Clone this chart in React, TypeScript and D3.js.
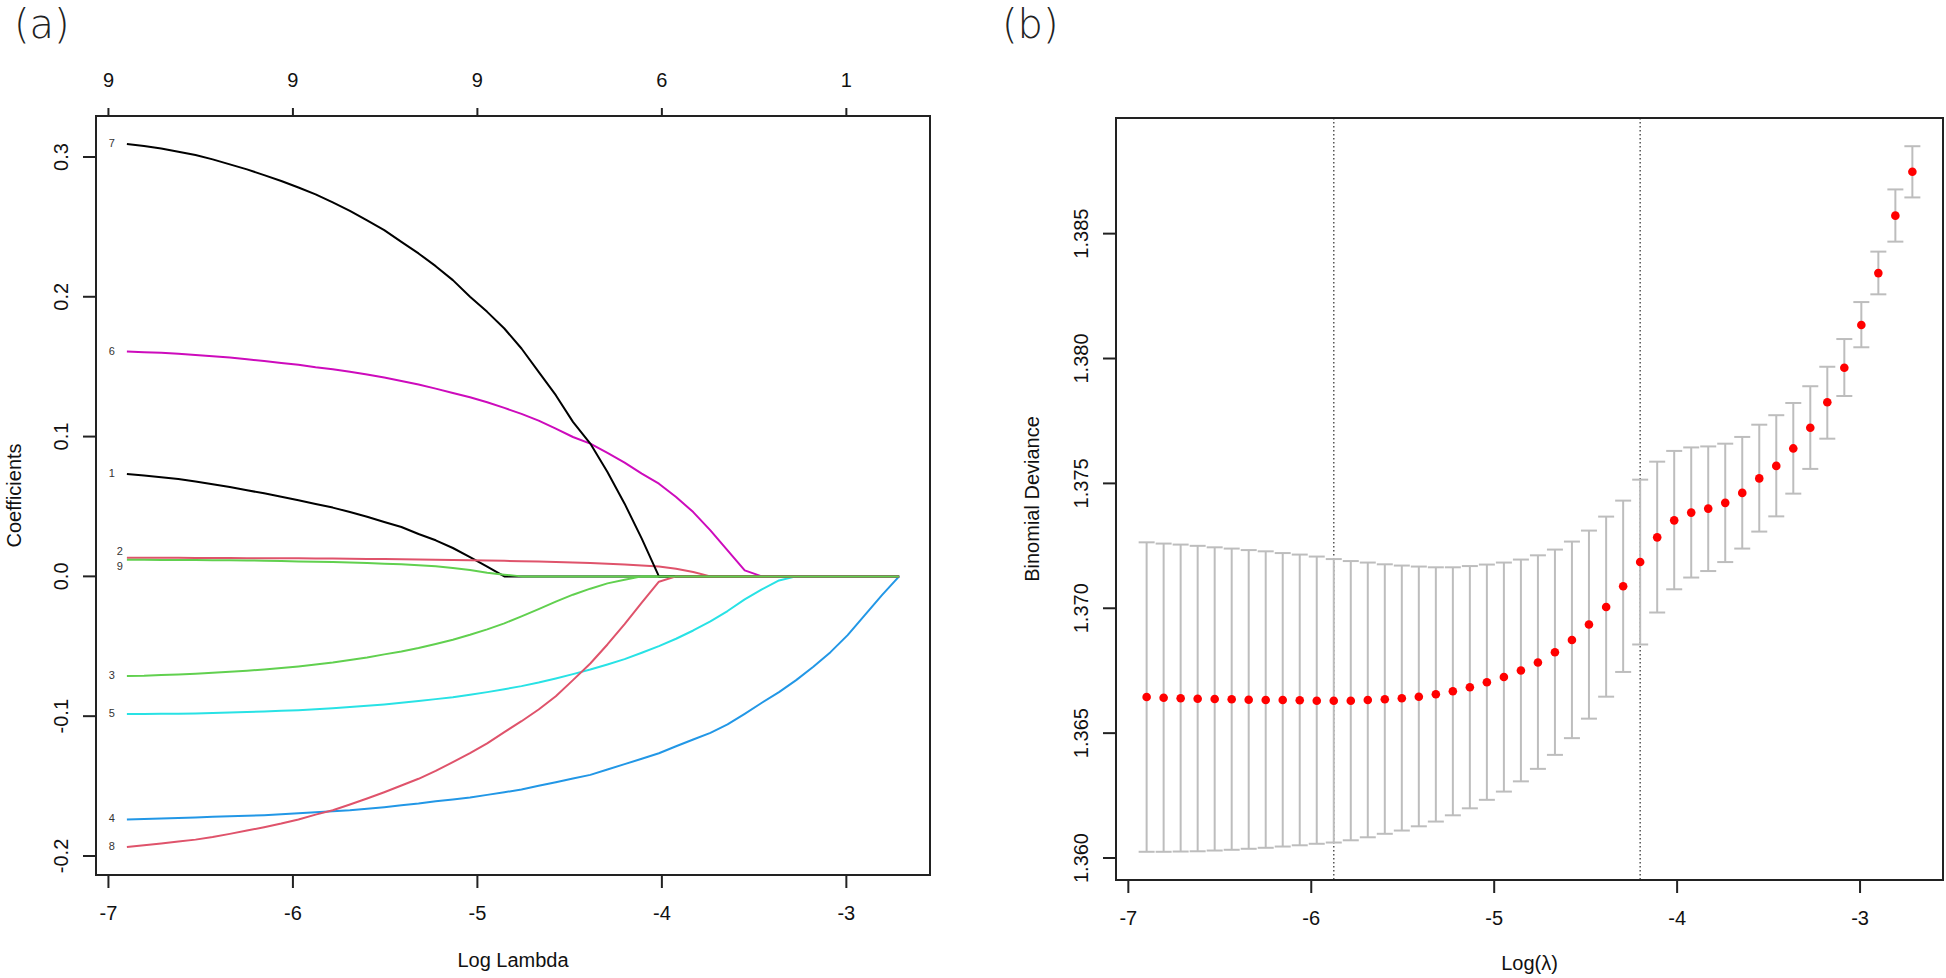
import React from "react";
import * as d3 from "d3";

// ---------- DATA ----------
const logLambda = [
  -6.900, -6.807, -6.714, -6.621, -6.528, -6.435, -6.342, -6.249, -6.156, -6.063,
  -5.970, -5.877, -5.784, -5.691, -5.598, -5.505, -5.412, -5.319, -5.226, -5.133,
  -5.040, -4.947, -4.854, -4.761, -4.668, -4.575, -4.482, -4.388, -4.295, -4.202,
  -4.109, -4.016, -3.923, -3.830, -3.737, -3.644, -3.551, -3.458, -3.365, -3.272,
  -3.179, -3.086, -2.993, -2.900, -2.807, -2.714,
];

const coef1 = [
  0.0733, 0.0721, 0.0709, 0.0697, 0.0678, 0.0659, 0.0639, 0.0616, 0.0594, 0.0570,
  0.0544, 0.0518, 0.0492, 0.0460, 0.0427, 0.0389, 0.0353, 0.0303, 0.0258, 0.0203,
  0.0138, 0.0069, 0, 0, 0, 0, 0, 0, 0, 0,
  0, 0, 0, 0, 0, 0, 0, 0, 0, 0,
  0, 0, 0, 0, 0, 0,
];
const coef2 = [
  0.0134, 0.0134, 0.0133, 0.0133, 0.0132, 0.0131, 0.0131, 0.0130, 0.0130, 0.0129,
  0.0129, 0.0128, 0.0127, 0.0126, 0.0125, 0.0124, 0.0123, 0.0121, 0.0119, 0.0117,
  0.0115, 0.0113, 0.0111, 0.0108, 0.0106, 0.0103, 0.0099, 0.0095, 0.0091, 0.0085,
  0.0078, 0.0071, 0.0055, 0.0031, 0, 0, 0, 0, 0, 0,
  0, 0, 0, 0, 0, 0,
];
const coef3 = [
  -0.0713, -0.0711, -0.0706, -0.0702, -0.0697, -0.0690, -0.0682, -0.0675, -0.0666, -0.0656,
  -0.0644, -0.0630, -0.0616, -0.0599, -0.0580, -0.0558, -0.0537, -0.0513, -0.0484, -0.0453,
  -0.0418, -0.0379, -0.0336, -0.0286, -0.0234, -0.0181, -0.0131, -0.0088, -0.0050, -0.0024,
  0, 0, 0, 0, 0, 0, 0, 0, 0, 0,
  0, 0, 0, 0, 0, 0,
];
const coef4 = [
  -0.1739, -0.1735, -0.1732, -0.1728, -0.1725, -0.1720, -0.1716, -0.1713, -0.1708, -0.1701,
  -0.1694, -0.1687, -0.1680, -0.1673, -0.1663, -0.1651, -0.1637, -0.1625, -0.1608, -0.1596,
  -0.1582, -0.1563, -0.1544, -0.1525, -0.1498, -0.1472, -0.1446, -0.1420, -0.1382, -0.1343,
  -0.1305, -0.1265, -0.1215, -0.1167, -0.1119, -0.1059, -0.0983, -0.0904, -0.0828, -0.0742,
  -0.0647, -0.0542, -0.0420, -0.0277, -0.0134, 0,
];
const coef5 = [
  -0.0985, -0.0985, -0.0983, -0.0983, -0.0981, -0.0978, -0.0974, -0.0971, -0.0966, -0.0962,
  -0.0957, -0.0950, -0.0943, -0.0935, -0.0926, -0.0916, -0.0904, -0.0892, -0.0878, -0.0864,
  -0.0847, -0.0828, -0.0807, -0.0785, -0.0759, -0.0730, -0.0699, -0.0666, -0.0630, -0.0592,
  -0.0546, -0.0499, -0.0446, -0.0387, -0.0322, -0.0248, -0.0165, -0.0093, -0.0029, 0,
  0, 0, 0, 0, 0, 0,
];
const coef6 = [
  0.1608, 0.1603, 0.1599, 0.1592, 0.1584, 0.1575, 0.1565, 0.1553, 0.1541, 0.1527,
  0.1513, 0.1496, 0.1482, 0.1463, 0.1444, 0.1422, 0.1398, 0.1372, 0.1343, 0.1312,
  0.1281, 0.1246, 0.1205, 0.1162, 0.1114, 0.1057, 0.0997, 0.0950, 0.0883, 0.0814,
  0.0735, 0.0663, 0.0568, 0.0460, 0.0329, 0.0186, 0.0043, 0, 0, 0,
  0, 0, 0, 0, 0, 0,
];
const coef7 = [
  0.3092, 0.3078, 0.3061, 0.3037, 0.3014, 0.2983, 0.2947, 0.2911, 0.2870, 0.2828,
  0.2782, 0.2732, 0.2675, 0.2615, 0.2546, 0.2477, 0.2393, 0.2310, 0.2219, 0.2119,
  0.2000, 0.1892, 0.1773, 0.1630, 0.1463, 0.1296, 0.1105, 0.0950, 0.0747, 0.0520,
  0.0270, 0, 0, 0, 0, 0, 0, 0, 0, 0,
  0, 0, 0, 0, 0, 0,
];
const coef8 = [
  -0.1935, -0.1923, -0.1911, -0.1897, -0.1883, -0.1864, -0.1842, -0.1818, -0.1794, -0.1768,
  -0.1739, -0.1704, -0.1673, -0.1632, -0.1589, -0.1544, -0.1496, -0.1448, -0.1391, -0.1329,
  -0.1265, -0.1195, -0.1114, -0.1036, -0.0952, -0.0857, -0.0742, -0.0623, -0.0487, -0.0341,
  -0.0188, -0.0038, 0, 0, 0, 0, 0, 0, 0, 0,
  0, 0, 0, 0, 0, 0,
];
const coef9 = [
  0.0119, 0.0119, 0.0118, 0.0118, 0.0117, 0.0116, 0.0115, 0.0114, 0.0112, 0.0110,
  0.0107, 0.0105, 0.0103, 0.0099, 0.0095, 0.0091, 0.0086, 0.0080, 0.0072, 0.0060,
  0.0045, 0.0026, 0.0012, 0, 0, 0, 0, 0, 0, 0,
  0, 0, 0, 0, 0, 0, 0, 0, 0, 0,
  0, 0, 0, 0, 0, 0,
];

const variableNames = ["1", "2", "3", "4", "5", "6", "7", "8", "9"];
const coefSeries = [coef1, coef2, coef3, coef4, coef5, coef6, coef7, coef8, coef9];

const xTicks = [-7, -6, -5, -4, -3];
const dfLabels = ["9", "9", "9", "6", "1"];
const coefTicks = [-0.2, -0.1, 0.0, 0.1, 0.2, 0.3];

const cvm = [
  1.36645, 1.36642, 1.36640, 1.36638, 1.36637, 1.36636, 1.36634, 1.36633, 1.36633, 1.36632,
  1.36630, 1.36630, 1.36630, 1.36633, 1.36636, 1.36640, 1.36646, 1.36656, 1.36668, 1.36684,
  1.36704, 1.36725, 1.36751, 1.36783, 1.36824, 1.36873, 1.36935, 1.37005, 1.37088, 1.37185,
  1.37284, 1.37352, 1.37383, 1.37399, 1.37422, 1.37462, 1.37520, 1.37570, 1.37640, 1.37723,
  1.37825, 1.37963, 1.38134, 1.38342, 1.38572, 1.38748,
];
const cvup = [
  1.37264, 1.37259, 1.37255, 1.37250, 1.37244, 1.37239, 1.37233, 1.37228, 1.37221, 1.37215,
  1.37207, 1.37197, 1.37189, 1.37183, 1.37176, 1.37171, 1.37167, 1.37164, 1.37164, 1.37169,
  1.37175, 1.37183, 1.37195, 1.37212, 1.37235, 1.37267, 1.37311, 1.37367, 1.37431, 1.37515,
  1.37587, 1.37630, 1.37644, 1.37648, 1.37659, 1.37686, 1.37735, 1.37773, 1.37822, 1.37889,
  1.37967, 1.38078, 1.38226, 1.38428, 1.38677, 1.38850,
];
const cvlo = [
  1.36025, 1.36025, 1.36026, 1.36027, 1.36030, 1.36033, 1.36037, 1.36041, 1.36046, 1.36051,
  1.36057, 1.36062, 1.36071, 1.36083, 1.36097, 1.36110, 1.36127, 1.36146, 1.36171, 1.36199,
  1.36233, 1.36266, 1.36307, 1.36357, 1.36413, 1.36480, 1.36558, 1.36646, 1.36745, 1.36855,
  1.36983, 1.37076, 1.37123, 1.37149, 1.37185, 1.37239, 1.37307, 1.37368, 1.37459, 1.37558,
  1.37679, 1.37850, 1.38045, 1.38257, 1.38468, 1.38645,
];
const devTicks = [1.360, 1.365, 1.370, 1.375, 1.380, 1.385];
const lambdaMinLog = -5.877;
const lambda1seLog = -4.202;

// ---------- STYLE / LAYOUT ----------
const W = 1946;
const H = 978;
const seriesColors = ["#000000", "#DF536B", "#61D04F", "#2297E6", "#28E2E5", "#CD0BBC", "#000000", "#DF536B", "#61D04F"];
const labelNudge: Record<string, { dx: number; dy: number }> = {
  "2": { dx: 8, dy: -6 },
  "9": { dx: 8, dy: 7 },
};
const boxA = { left: 96, top: 116, right: 930, bottom: 875 };
const boxB = { left: 1116, top: 118, right: 1943, bottom: 880 };
const FONT = "'Liberation Sans', Arial, sans-serif";
const PANEL_FONT = "'DejaVu Sans', 'Noto Sans', sans-serif";
const AXIS = "#222";

// R-style 4% axis extension
const rPad = (ext: [number, number]): [number, number] => {
  const r = ext[1] - ext[0];
  return [ext[0] - 0.04 * r, ext[1] + 0.04 * r];
};

export default function App() {
  const xExt = d3.extent(logLambda) as [number, number];
  const xA = d3.scaleLinear().domain(rPad(xExt)).range([boxA.left, boxA.right]);
  const allCoef = coefSeries.flat();
  const yA = d3
    .scaleLinear()
    .domain(rPad([d3.min(allCoef) as number, d3.max(allCoef) as number]))
    .range([boxA.bottom, boxA.top]);

  const xB = d3.scaleLinear().domain(rPad(xExt)).range([boxB.left, boxB.right]);
  const yB = d3
    .scaleLinear()
    .domain(rPad([d3.min(cvlo) as number, d3.max(cvup) as number]))
    .range([boxB.bottom, boxB.top]);

  const line = (vals: number[]) =>
    d3
      .line<number>()
      .x((_, i) => xA(logLambda[i]))
      .y((v) => yA(v))(vals) as string;

  return (
    <svg
      width={W}
      height={H}
      style={{ position: "absolute", left: 0, top: 0, background: "#fff" }}
      fontFamily={FONT}
    >
      <rect x={0} y={0} width={W} height={H} fill="#fff" />
      <defs>
        <clipPath id="clipA">
          <rect x={boxA.left} y={boxA.top} width={boxA.right - boxA.left} height={boxA.bottom - boxA.top} />
        </clipPath>
        <clipPath id="clipB">
          <rect x={boxB.left} y={boxB.top} width={boxB.right - boxB.left} height={boxB.bottom - boxB.top} />
        </clipPath>
      </defs>

      {/* ===== Panel (a) ===== */}
      <text x={14} y={38} fontSize={40} fontWeight={200} fontFamily={PANEL_FONT} fill="#222">
        (a)
      </text>

      <g clipPath="url(#clipA)">
        {coefSeries.map((vals, k) => (
          <path key={k} d={line(vals)} fill="none" stroke={seriesColors[k]} strokeWidth={2} strokeLinejoin="round" />
        ))}
      </g>

      {coefSeries.map((vals, k) => {
        const name = variableNames[k];
        const n = labelNudge[name] || { dx: 0, dy: 0 };
        return (
          <text
            key={"lab" + k}
            x={xA(logLambda[0]) - 12 + n.dx}
            y={yA(vals[0]) + 3 + n.dy}
            fontSize={11}
            textAnchor="end"
            fill="#333"
          >
            {name}
          </text>
        );
      })}

      <rect
        x={boxA.left}
        y={boxA.top}
        width={boxA.right - boxA.left}
        height={boxA.bottom - boxA.top}
        fill="none"
        stroke={AXIS}
        strokeWidth={2}
      />

      {xTicks.map((t) => (
        <g key={"xa" + t}>
          <line x1={xA(t)} x2={xA(t)} y1={boxA.bottom} y2={boxA.bottom + 13} stroke={AXIS} strokeWidth={2} />
          <text x={xA(t)} y={920} fontSize={20} textAnchor="middle" fill="#111">
            {t}
          </text>
        </g>
      ))}
      <text x={(boxA.left + boxA.right) / 2} y={967} fontSize={20} textAnchor="middle" fill="#111">
        Log Lambda
      </text>

      {xTicks.map((t, i) => (
        <g key={"ta" + t}>
          <line x1={xA(t)} x2={xA(t)} y1={boxA.top - 8} y2={boxA.top} stroke={AXIS} strokeWidth={2} />
          <text x={xA(t)} y={87} fontSize={20} textAnchor="middle" fill="#111">
            {dfLabels[i]}
          </text>
        </g>
      ))}

      {coefTicks.map((t) => (
        <g key={"ya" + t}>
          <line x1={boxA.left - 13} x2={boxA.left} y1={yA(t)} y2={yA(t)} stroke={AXIS} strokeWidth={2} />
          <text
            transform={`translate(68,${yA(t)}) rotate(-90)`}
            fontSize={20}
            textAnchor="middle"
            fill="#111"
          >
            {t.toFixed(1)}
          </text>
        </g>
      ))}
      <text
        transform={`translate(21,${(boxA.top + boxA.bottom) / 2}) rotate(-90)`}
        fontSize={20}
        textAnchor="middle"
        fill="#111"
      >
        Coefficients
      </text>

      {/* ===== Panel (b) ===== */}
      <text x={1002} y={38} fontSize={40} fontWeight={200} fontFamily={PANEL_FONT} fill="#222">
        (b)
      </text>

      <g clipPath="url(#clipB)">
        {[lambdaMinLog, lambda1seLog].map((v, i) => (
          <line
            key={"vl" + i}
            x1={xB(v)}
            x2={xB(v)}
            y1={boxB.top}
            y2={boxB.bottom}
            stroke="#555"
            strokeWidth={1.5}
            strokeDasharray="1.5 2.5"
          />
        ))}
        {logLambda.map((lx, i) => (
          <g key={"eb" + i}>
            <line x1={xB(lx)} x2={xB(lx)} y1={yB(cvlo[i])} y2={yB(cvup[i])} stroke="#BDBDBD" strokeWidth={2} />
            <line x1={xB(lx) - 8} x2={xB(lx) + 8} y1={yB(cvup[i])} y2={yB(cvup[i])} stroke="#BDBDBD" strokeWidth={2} />
            <line x1={xB(lx) - 8} x2={xB(lx) + 8} y1={yB(cvlo[i])} y2={yB(cvlo[i])} stroke="#BDBDBD" strokeWidth={2} />
          </g>
        ))}
        {logLambda.map((lx, i) => (
          <circle key={"pt" + i} cx={xB(lx)} cy={yB(cvm[i])} r={4.3} fill="#FF0000" />
        ))}
      </g>

      <rect
        x={boxB.left}
        y={boxB.top}
        width={boxB.right - boxB.left}
        height={boxB.bottom - boxB.top}
        fill="none"
        stroke={AXIS}
        strokeWidth={2}
      />

      {xTicks.map((t) => (
        <g key={"xb" + t}>
          <line x1={xB(t)} x2={xB(t)} y1={boxB.bottom} y2={boxB.bottom + 13} stroke={AXIS} strokeWidth={2} />
          <text x={xB(t)} y={925} fontSize={20} textAnchor="middle" fill="#111">
            {t}
          </text>
        </g>
      ))}
      <text x={(boxB.left + boxB.right) / 2} y={970} fontSize={20} textAnchor="middle" fill="#111">
        Log(λ)
      </text>

      {devTicks.map((t) => (
        <g key={"yb" + t}>
          <line x1={boxB.left - 13} x2={boxB.left} y1={yB(t)} y2={yB(t)} stroke={AXIS} strokeWidth={2} />
          <text
            transform={`translate(1088,${yB(t)}) rotate(-90)`}
            fontSize={20}
            textAnchor="middle"
            fill="#111"
          >
            {t.toFixed(3)}
          </text>
        </g>
      ))}
      <text
        transform={`translate(1039,${(boxB.top + boxB.bottom) / 2}) rotate(-90)`}
        fontSize={20}
        textAnchor="middle"
        fill="#111"
      >
        Binomial Deviance
      </text>
    </svg>
  );
}
